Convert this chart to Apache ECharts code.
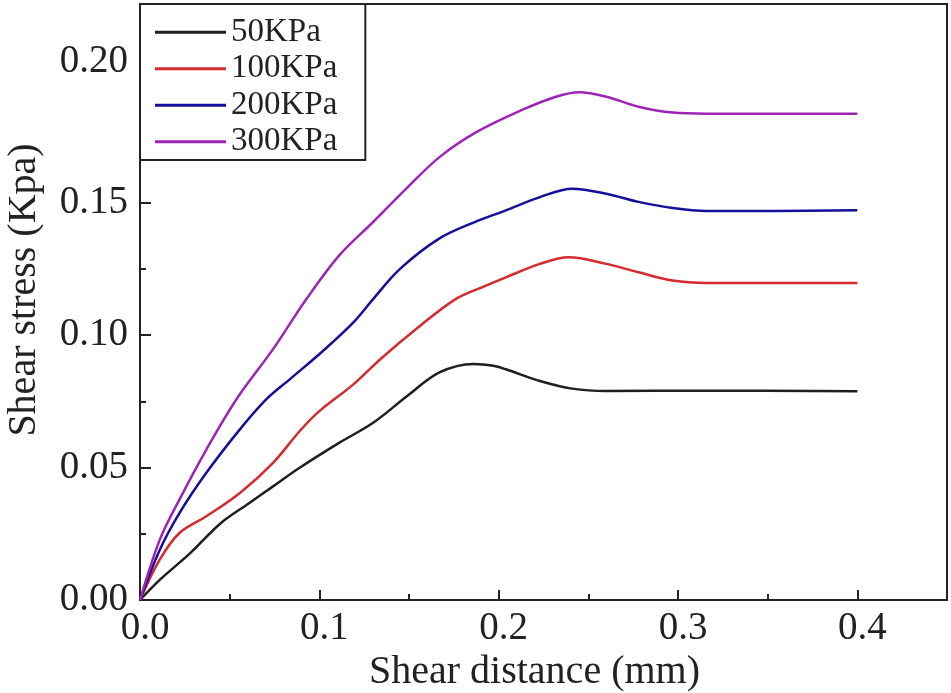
<!DOCTYPE html>
<html><head><meta charset="utf-8">
<script src="https://cdn.jsdelivr.net/npm/echarts@6/dist/echarts.min.js"></script>
<style>html,body{margin:0;padding:0;background:#fff}#c{width:951px;height:693px}</style>
</head><body><div id="c"></div>
<script>
const seriesNames = ['50KPa', '100KPa', '200KPa', '300KPa'];
const seriesColors = ['#1e1e1e', '#d52a2e', '#14109a', '#9d25b6'];

// [shear distance (mm), shear stress (Kpa)]
const s50 = [[0,0],[0.011,0.0076],[0.028,0.0177],[0.045,0.029],[0.061,0.0366],[0.074,0.0428],[0.089,0.0499],[0.111,0.0593],[0.13,0.0669],[0.149,0.077],[0.167,0.0859],[0.186,0.0891],[0.197,0.0884],[0.204,0.0871],[0.223,0.0827],[0.241,0.0798],[0.26,0.0789],[0.316,0.079],[0.4,0.0788]];
const s100 = [[0,0],[0.011,0.0152],[0.022,0.0253],[0.037,0.0316],[0.0557,0.0404],[0.0742,0.0518],[0.0891,0.0638],[0.1,0.0713],[0.119,0.0814],[0.134,0.0909],[0.154,0.1023],[0.176,0.1136],[0.193,0.1187],[0.204,0.1218],[0.223,0.1269],[0.239,0.1294],[0.26,0.1269],[0.278,0.1237],[0.297,0.1206],[0.316,0.1197],[0.4,0.1197]];
const s200 = [[0,0],[0.011,0.0189],[0.022,0.0328],[0.037,0.048],[0.0557,0.0644],[0.0705,0.0758],[0.0835,0.0833],[0.102,0.094],[0.119,0.1048],[0.13,0.1136],[0.145,0.125],[0.167,0.1365],[0.186,0.1425],[0.204,0.1471],[0.223,0.1521],[0.241,0.1553],[0.26,0.1534],[0.278,0.1503],[0.297,0.148],[0.316,0.1469],[0.353,0.1469],[0.4,0.1471]];
const s300 = [[0,0],[0.011,0.0227],[0.022,0.0379],[0.037,0.0568],[0.0538,0.0758],[0.0742,0.0947],[0.0928,0.1136],[0.111,0.13],[0.13,0.1427],[0.1485,0.1553],[0.167,0.1672],[0.188,0.1768],[0.213,0.185],[0.232,0.19],[0.245,0.1917],[0.26,0.19],[0.278,0.1862],[0.297,0.184],[0.316,0.1836],[0.4,0.1836]];
const seriesData = [s50, s100, s200, s300];

const xTickLabels = ['0.0', '0.1', '0.2', '0.3', '0.4'];
const yTickLabels = ['0.00', '0.05', '0.10', '0.15', '0.20'];

const FONT = 'Liberation Serif';
const INK = '#222';

const chart = echarts.init(document.getElementById('c'), null, {renderer: 'canvas'});
const option = {
  animation: false,
  backgroundColor: '#fff',
  grid: {left: 140, right: 4, top: 4, bottom: 93, show: true, borderColor: INK, borderWidth: 2, backgroundColor: 'transparent', containLabel: false, outerBoundsMode: 'none'},
  legend: {
    left: 140, top: 4, orient: 'vertical',
    itemWidth: 71, itemHeight: 3, itemGap: 0, icon: 'rect',
    padding: [10, 28, 0, 15],
    backgroundColor: '#fff', borderColor: INK, borderWidth: 2, borderRadius: 0,
    textStyle: {fontFamily: FONT, fontSize: 33, color: INK, lineHeight: 36.5},
    data: seriesNames
  },
  xAxis: [{
    type: 'value', min: 0, max: 0.45, interval: 0.1, position: 'bottom',
    axisLine: {lineStyle: {color: INK, width: 2}},
    axisTick: {inside: true, length: 10, lineStyle: {color: INK, width: 2}},
    axisLabel: {showMaxLabel: false, fontFamily: FONT, fontSize: 39, color: INK, margin: 9, padding: [0, 0, 0, 10],
      formatter: v => xTickLabels[Math.round(v / 0.1)] || ''},
    splitLine: {show: false},
    name: 'Shear distance (mm)', nameLocation: 'middle', nameGap: 50,
    nameTextStyle: {fontFamily: FONT, fontSize: 40, color: INK, padding: [0, 18, 0, 0]}
  }, {
    type: 'value', min: 0, max: 0.45, interval: 0.05, position: 'bottom',
    axisLine: {show: false},
    axisTick: {inside: true, length: 6, lineStyle: {color: INK, width: 2}},
    axisLabel: {show: false}, splitLine: {show: false}
  }],
  yAxis: [{
    type: 'value', min: 0, max: 0.225, interval: 0.05, position: 'left',
    axisLine: {lineStyle: {color: INK, width: 2}},
    axisTick: {inside: true, length: 11, lineStyle: {color: INK, width: 2}},
    axisLabel: {showMaxLabel: false, fontFamily: FONT, fontSize: 39, color: INK, margin: 12,
      formatter: v => {
        const i = Math.round(v / 0.05);
        const t = yTickLabels[i] || '';
        return i === 4 ? '{up|' + t + '}' : t;
      },
      rich: {up: {fontFamily: FONT, fontSize: 39, color: INK, padding: [0, 0, 16, 0]}}
    },
    splitLine: {show: false},
    name: 'Shear stress (Kpa)', nameLocation: 'middle', nameGap: 96, nameRotate: 90,
    nameTextStyle: {fontFamily: FONT, fontSize: 40, color: INK, padding: [0, 0, 0, 24]}
  }, {
    type: 'value', min: 0, max: 0.225, interval: 0.025, position: 'left',
    axisLine: {show: false},
    axisTick: {inside: true, length: 6, lineStyle: {color: INK, width: 2}},
    axisLabel: {show: false}, splitLine: {show: false}
  }],
  series: seriesNames.map((n, i) => ({
    name: n, type: 'line', xAxisIndex: 0, yAxisIndex: 0,
    data: seriesData[i], symbol: 'none', smooth: 0.35,
    lineStyle: {color: seriesColors[i], width: 2.5},
    itemStyle: {color: seriesColors[i]},
    z: 2
  }))
};
chart.setOption(option);
</script>
</body></html>
